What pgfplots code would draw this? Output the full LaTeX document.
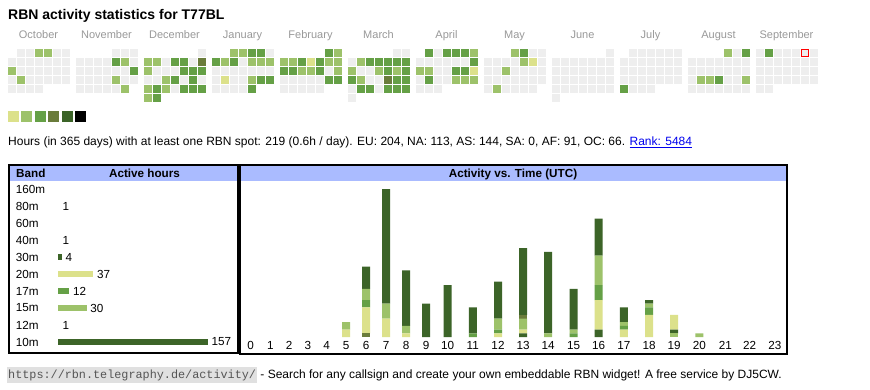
\documentclass[border=0pt]{standalone}
\usepackage{fontspec}
\setmainfont{Liberation Sans}
\newfontfamily\monofont{Liberation Mono}
\usepackage{pgfplots}
\usepackage{pgfplotstable}
\pgfplotsset{compat=1.18}
\pgfplotsset{/pgf/number format/assume math mode=true}

\definecolor{lv0}{HTML}{EEEEEE}
\definecolor{lv1}{HTML}{DCE18B}
\definecolor{lv2}{HTML}{9DC26A}
\definecolor{lv3}{HTML}{65A046}
\definecolor{lv4}{HTML}{6A7C3B}
\definecolor{lv5}{HTML}{3C6428}
\definecolor{hdr}{HTML}{AABBFF}
\definecolor{mgrey}{HTML}{999999}
\definecolor{linkblue}{HTML}{0000EE}
\definecolor{urlbg}{HTML}{E0E0E0}
\definecolor{urlfg}{HTML}{555555}

\newcommand\fs[1]{\fontsize{#1}{#1}\selectfont}

% calendar: m = month (0 = Oct 2024), r = week row, c0..c6 = Mon..Sun level
% 0 = no spot, 1..5 = activity level, 7 = today, 8 = no such day
\pgfplotstableread{
m r c0 c1 c2 c3 c4 c5 c6
0 1 8 0 0 2 2 0 0
0 2 0 0 0 0 0 0 0
0 3 2 0 0 0 0 0 0
0 4 0 2 0 0 0 0 0
0 5 0 0 0 0 8 8 8
1 1 8 8 8 8 0 0 0
1 2 0 0 0 0 3 2 0
1 3 0 0 0 0 0 0 3
1 4 0 0 0 0 2 0 0
1 5 0 0 0 0 0 2 8
2 1 8 8 8 8 8 8 0
2 2 2 2 0 3 3 0 4
2 3 2 0 0 0 3 3 3
2 4 0 0 2 3 0 3 0
2 5 2 3 2 0 3 3 3
2 6 2 3 8 8 8 8 8
3 1 8 8 2 2 3 3 0
3 2 3 2 3 0 2 2 2
3 3 0 0 0 0 0 0 0
3 4 0 1 0 0 2 3 3
3 5 0 0 0 0 3 8 8
4 1 8 8 8 8 8 3 2
4 2 2 2 3 1 3 2 2
4 3 3 3 2 2 3 0 2
4 4 0 0 0 0 0 3 3
4 5 0 0 0 0 0 8 8
5 1 8 8 8 8 8 0 0
5 2 0 2 3 3 3 3 3
5 3 2 0 0 2 3 2 3
5 4 3 2 0 0 4 3 3
5 5 0 3 3 0 3 3 3
5 6 0 8 8 8 8 8 8
6 1 8 3 0 3 3 3 2
6 2 0 0 0 0 0 0 3
6 3 2 2 0 0 3 3 1
6 4 0 3 0 0 2 2 2
6 5 0 0 0 8 8 8 8
7 1 8 8 8 2 3 0 0
7 2 0 0 0 0 2 1 0
7 3 0 0 2 0 0 0 0
7 4 0 0 0 0 0 0 0
7 5 0 2 0 0 0 0 8
8 1 8 8 8 8 8 8 0
8 2 0 0 0 0 0 0 0
8 3 0 0 0 0 0 0 0
8 4 0 0 0 0 0 0 0
8 5 0 0 0 0 0 0 0
8 6 0 8 8 8 8 8 8
9 1 8 0 0 0 0 0 0
9 2 0 0 0 0 0 0 0
9 3 0 0 0 0 0 0 0
9 4 0 0 0 0 0 0 0
9 5 3 0 0 0 8 8 8
10 1 8 8 8 8 2 0 3
10 2 0 0 0 0 0 0 0
10 3 0 0 0 0 0 0 0
10 4 0 2 2 3 0 0 2
10 5 0 0 0 0 0 0 0
11 1 0 3 0 0 0 7 0
11 2 0 0 0 0 0 0 0
11 3 0 0 0 0 0 0 0
11 4 0 0 0 0 0 0 0
11 5 0 0 8 8 8 8 8
}\calTable

% activity vs. time: pos = column centre, hour, active hours per band
% A=80m B=40m C=30m D=20m E=17m F=15m G=12m H=10m
\pgfplotstableread{
pos hour A B C D E F G H
250.7 0 0 0 0 0 0 0 0 0
270.3 1 0 0 0 0 0 0 0 0
289.2 2 0 0 0 0 0 0 0 0
307.8 3 0 0 0 0 0 0 0 0
326.5 4 0 0 0 0 0 0 0 0
346.0 5 0 0 0 2 0 2 0 0
366.0 6 0 1 0 7 2 3 0 6
386.0 7 0 0 0 5 0 4 0 31
406.2 8 0 0 0 1 0 2 0 15
426.1 9 0 0 0 0 0 0 0 9
447.7 10 0 0 0 0 0 0 0 14
472.8 11 0 0 0 0 1 0 0 7
498.0 12 0 0 0 1 1 3 0 10
523.1 13 0 0 1 1 0 3 1 18
548.2 14 0 0 0 0 0 1 0 22
573.5 15 0 0 0 0 1 1 0 11
598.7 16 0 0 2 8 4 8 0 10
623.8 17 0 0 0 2 1 1 0 4
649.0 18 0 0 0 6 2 1 0 1
674.1 19 1 0 1 4 0 0 0 0
699.4 20 0 0 0 0 0 1 0 0
725.3 21 0 0 0 0 0 0 0 0
749.7 22 0 0 0 0 0 0 0 0
774.8 23 0 0 0 0 0 0 0 0
}\hourly

\begin{document}
\begin{tikzpicture}[x=1pt,y=1pt]
\fill[white] (0,0) rectangle (870,-390);
\useasboundingbox (0,0) rectangle (870,-390);

% title
\node[anchor=base west, inner sep=0pt, font=\fs{14}\bfseries] at (8pt,-19.5pt) {RBN activity statistics for T77BL};

% ---------------- calendar heat map ----------------
\begin{axis}[
  at={(0pt,0pt)}, anchor=north west,
  x=9pt, y=9pt, y dir=reverse,
  xmin=-1.277778, xmax=95.388889, ymin=-4.833333, ymax=38.5,
  hide axis, clip=false,
  scatter/classes={
    0={mark=square*, lv0},
    1={mark=square*, lv1},
    2={mark=square*, lv2},
    3={mark=square*, lv3},
    4={mark=square*, lv4},
    5={mark=square*, lv5},
    7={mark=square*, draw=red, fill=lv0},
    8={mark=none}},
  legend columns=6,
  legend style={at={(axis description cs:0.0091954,0.7153846)}, anchor=north west,
    draw=none, fill=none, inner sep=0pt, outer sep=0pt, column sep=1pt,
    nodes={inner sep=0pt, outer sep=0pt}},
]
\pgfplotsinvokeforeach{0,...,6}{
  \addplot[scatter, only marks, scatter src=explicit symbolic, mark size=3.3pt, forget plot,
    restrict expr to domain={\thisrow{c#1}}{0:7}]
    table[x expr={\thisrow{m}*68/9+#1}, y=r, meta=c#1] {\calTable};
}
\addlegendimage{legend image code/.code={\fill[lv1] (0pt,-5pt) rectangle (10pt,5pt);}}
\addlegendentry{}
\addlegendimage{legend image code/.code={\fill[lv2] (0pt,-5pt) rectangle (10pt,5pt);}}
\addlegendentry{}
\addlegendimage{legend image code/.code={\fill[lv3] (0pt,-5pt) rectangle (10pt,5pt);}}
\addlegendentry{}
\addlegendimage{legend image code/.code={\fill[lv4] (0pt,-5pt) rectangle (10pt,5pt);}}
\addlegendentry{}
\addlegendimage{legend image code/.code={\fill[lv5] (0pt,-5pt) rectangle (10pt,5pt);}}
\addlegendentry{}
\addlegendimage{legend image code/.code={\fill[black] (0pt,-5pt) rectangle (10pt,5pt);}}
\addlegendentry{}
\begin{scope}[every node/.style={anchor=base, font=\fs{11}, text=mgrey, inner sep=0pt}]
\node at (axis cs:3,-0.5) {October};
\node at (axis cs:10.5556,-0.5) {November};
\node at (axis cs:18.1111,-0.5) {December};
\node at (axis cs:25.6667,-0.5) {January};
\node at (axis cs:33.2222,-0.5) {February};
\node at (axis cs:40.7778,-0.5) {March};
\node at (axis cs:48.3333,-0.5) {April};
\node at (axis cs:55.8889,-0.5) {May};
\node at (axis cs:63.4444,-0.5) {June};
\node at (axis cs:71,-0.5) {July};
\node at (axis cs:78.5556,-0.5) {August};
\node at (axis cs:86.1111,-0.5) {September};
\end{scope}
\end{axis}

% summary line
\node[anchor=base west, inner sep=0pt, font=\fs{12}] at (8pt,-146pt)
  {Hours (in 365 days) with at least one RBN spot: 219 (0.6h / day). EU: 204, NA: 113, AS: 144, SA: 0, AF: 91, OC: 66. \textcolor{linkblue}{\underline{Rank: 5484}}};

% ---------------- boxes ----------------
\fill[hdr] (9.5,-166) rectangle (237,-181);
\fill[hdr] (241,-166) rectangle (786,-181);
\draw[line width=2pt] (8.5,-165) rectangle (238,-352.5);
\draw[line width=2pt] (240,-165) rectangle (787,-354);
\node[anchor=base west, inner sep=0pt, font=\fs{11.7}\bfseries] at (16pt,-177.5pt) {Band};
\node[anchor=base, inner sep=0pt, font=\fs{11.7}\bfseries] at (144.5pt,-177.5pt) {Active hours};
\node[anchor=base, inner sep=0pt, font=\fs{11.7}\bfseries] at (513pt,-177.5pt) {Activity vs. Time (UTC)};

% ---------------- band table ----------------
\begin{axis}[
  at={(58pt,-180.5pt)}, anchor=north west,
  x=0.955pt, y=17pt, y dir=reverse,
  xmin=0, xmax=188, ymin=-0.5, ymax=9.5,
  xbar, bar width=6.5pt,
  clip=false,
  axis line style={draw=none}, tick style={draw=none},
  xtick=\empty, ytick={0,...,9},
  yticklabels={160m,80m,60m,40m,30m,20m,17m,15m,12m,10m},
  yticklabel style={anchor=west, inner sep=0pt, xshift=-38pt, font=\fs{11.7}},
  nodes near coords,
  nodes near coords style={anchor=west, inner sep=0pt, xshift=3.5pt, font=\fs{11.7}, text=black},
]
% bands with a single hour: bar is narrower than one pixel, so it is not drawn
\addplot[bar shift=0pt, fill=none, draw=none] coordinates {(1,1)};
\addplot[bar shift=0pt, fill=none, draw=none] coordinates {(1,3)};
\addplot[bar shift=0pt, fill=lv5, draw=none] coordinates {(4,4)};
\addplot[bar shift=0pt, fill=lv1, draw=none] coordinates {(37,5)};
\addplot[bar shift=0pt, fill=lv3, draw=none] coordinates {(12,6)};
\addplot[bar shift=0pt, fill=lv2, draw=none] coordinates {(30,7)};
\addplot[bar shift=0pt, fill=none, draw=none] coordinates {(1,8)};
\addplot[bar shift=0pt, fill=lv5, draw=none] coordinates {(157,9)};
\end{axis}

% ---------------- activity vs time ----------------
\begin{axis}[
  at={(240pt,-337pt)}, anchor=south west,
  x=1pt, y=3.7pt,
  xmin=240, xmax=787, ymin=0, ymax=42,
  ybar stacked, bar width=8pt,
  clip=false,
  axis line style={draw=none}, tick style={draw=none},
  ytick=\empty, xtick=data,
  xticklabels from table={\hourly}{hour},
  xticklabel style={font=\fs{11.7}, inner sep=0pt, yshift=-4.5pt},
]
\addplot[fill=lv2, draw=none] table[x=pos, y=A] {\hourly};
\addplot[fill=lv4, draw=none] table[x=pos, y=B] {\hourly};
\addplot[fill=lv5, draw=none] table[x=pos, y=C] {\hourly};
\addplot[fill=lv1, draw=none] table[x=pos, y=D] {\hourly};
\addplot[fill=lv3, draw=none] table[x=pos, y=E] {\hourly};
\addplot[fill=lv2, draw=none] table[x=pos, y=F] {\hourly};
\addplot[fill=lv4, draw=none] table[x=pos, y=G] {\hourly};
\addplot[fill=lv5, draw=none] table[x=pos, y=H] {\hourly};
\end{axis}

% footer
\node[anchor=base west, fill=urlbg, inner xsep=1pt, inner ysep=2.5pt, text=urlfg, font=\monofont\fs{11.8}] (url) at (7pt,-378pt) {https://rbn.telegraphy.de/activity/};
\node[anchor=base west, inner sep=0pt, font=\fs{12}] at ([xshift=3pt]url.base east) {- Search for any callsign and create your own embeddable RBN widget! A free service by DJ5CW.};
\end{tikzpicture}
\end{document}
